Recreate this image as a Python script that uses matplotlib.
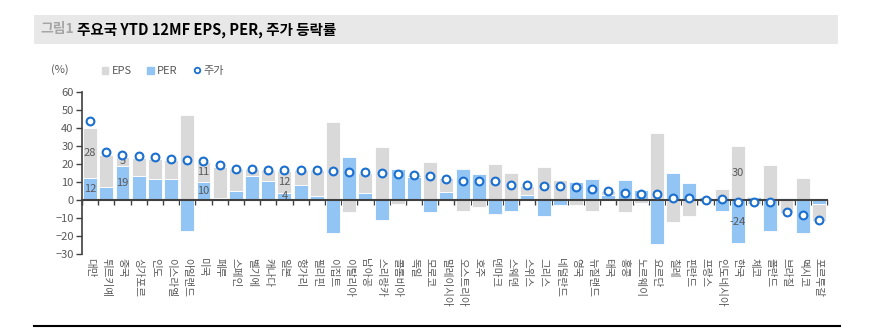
import matplotlib.pyplot as plt
import numpy as np
from matplotlib.patches import Rectangle
from matplotlib.lines import Line2D
from matplotlib.transforms import blended_transform_factory

plt.rcParams['font.family'] = ['Noto Sans CJK KR', 'DejaVu Sans']

countries = ['대만', '튀르키예', '중국', '싱가포르', '인도', '이스라엘', '아일랜드', '미국', '페루',
             '스페인', '벨기에', '캐나다', '일본', '헝가리', '필리핀', '이집트', '이탈리아', '남아공',
             '스리랑카', '콜롬비아', '독일', '모로코', '말레이시아', '오스트리아', '호주', '덴마크',
             '스웨덴', '스위스', '그리스', '네덜란드', '영국', '뉴질랜드', '태국', '홍콩', '노르웨이',
             '요르단', '칠레', '핀란드', '프랑스', '인도네시아', '한국', '체코', '폴란드', '브라질',
             '멕시코', '포르투갈']

per = [12, 7, 19, 13.3, 11.4, 11.4, -17, 10, 1, 5, 13.3, 10.5, 4, 8.3, 2.2, -18.5, 24, 3.7,
       -11.3, 17, 12.8, -6.5, 4.4, 17, 14.2, -7.9, -5.9, 2.8, -8.7, -3, 10.1, 11.4, 2.8, 11.1,
       5.5, -24.5, 14.8, 9.6, 1.5, -5.9, -24, 1.5, -17, 0.9, -18.1, -2.4]
eps = [28, 18, 5, 10, 11.5, 10.7, 47, 11, 17.5, 12, 3.7, 6, 12, 8.3, 14.4, 43, -6.5, 11.4,
       29.5, -2.4, 1, 21.2, 7.6, -5.9, -3.7, 19.7, 14.8, 4.9, 18.5, 11.1, -3, -5.9, 2.2, -6.5,
       -1.5, 37.3, -12, -8.7, -1.3, 6.1, 30, -2.5, 19.4, -7.5, 12, -9.2]
price = [43.9, 26.6, 24.9, 24.4, 23.6, 22.9, 22.1, 21.6, 19.6, 17.3, 17.3, 16.6, 16.6, 16.6,
         16.6, 16.2, 15.3, 15.3, 14.8, 14.6, 13.8, 13.3, 11.8, 10.7, 10.7, 10.7, 8.3, 8.3, 7.7,
         7.7, 7.0, 5.9, 5.0, 3.7, 3.3, 3.3, 0.9, 0.9, 0.2, 0.4, -1.3, -1.2, -1.2, -6.6, -8.2,
         -11.1]

# countries whose EPS / PER values are printed on the bars
labeled = ['대만', '중국', '미국', '일본', '한국']

c_eps = '#d9d9d9'
c_per = '#92c4f4'
c_dot = '#1b6fcf'
c_txt = '#595959'

fig = plt.figure(figsize=(8.69, 3.29), dpi=100)

# header band
fig.patches.append(Rectangle((34 / 869, 1 - 44 / 329), (838 - 34) / 869, 29 / 329,
                             transform=fig.transFigure, facecolor='#e8e8e8', edgecolor='none'))
fig.text(40 / 869, 1 - 29.5 / 329, '그림1', color='#a6a6a6', fontsize=10, fontweight='bold', va='center')
fig.text(77 / 869, 1 - 29.5 / 329, '주요국 YTD 12MF EPS, PER, 주가 등락률', color='black',
         fontsize=10.5, fontweight='bold', va='center')
fig.add_artist(Line2D([34 / 869, 840 / 869], [1 - 326 / 329] * 2, color='black', lw=1.5))

ax = fig.add_axes([82 / 869, 75 / 329, (827 - 82) / 869, (254 - 91.7) / 329])

x = np.arange(len(countries))
per_a = np.array(per)
eps_a = np.array(eps)
# positive values stack on positive, negative on negative
eps_bottom = np.where(np.sign(eps_a) == np.sign(per_a), per_a, 0)

w = 0.86
ax.bar(x, per_a, w, color=c_per, edgecolor='white', linewidth=0.6, label='PER', zorder=2)
ax.bar(x, eps_a, w, bottom=eps_bottom, color=c_eps, edgecolor='white', linewidth=0.6,
       label='EPS', zorder=2)
ax.plot(x, price, 'o', ms=5.6, mfc='white', mec=c_dot, mew=1.5, label='주가', zorder=4)

for i, name in enumerate(countries):
    if name in labeled:
        ax.text(i, per_a[i] / 2, f'{per_a[i]:.0f}', ha='center', va='center',
                fontsize=8, color=c_txt, zorder=3)
        ax.text(i, eps_bottom[i] + eps_a[i] / 2, f'{eps_a[i]:.0f}', ha='center', va='center',
                fontsize=8, color=c_txt, zorder=3)

ax.set_xlim(-0.5, len(countries) - 0.5)
ax.set_ylim(-30, 60)
ax.set_yticks(np.arange(-30, 61, 10))
ax.tick_params(axis='y', direction='out', length=4, width=1, color='#404040',
               labelsize=8, labelcolor=c_txt, pad=2)

ax.spines['top'].set_visible(False)
ax.spines['right'].set_visible(False)
ax.spines['left'].set_color('#404040')
ax.spines['left'].set_linewidth(1.2)
ax.spines['bottom'].set_position(('data', 0))
ax.spines['bottom'].set_color('#404040')
ax.spines['bottom'].set_linewidth(1.5)
ax.spines['bottom'].set_zorder(3)

ax.set_xticks(x)
ax.set_xticklabels([])
ax.tick_params(axis='x', which='major', length=0)
ax.set_xticks(np.arange(-0.5, len(countries), 1), minor=True)
ax.tick_params(axis='x', which='minor', direction='out', length=3.5, width=1, color='#404040')

trans = blended_transform_factory(ax.transData, ax.transAxes)
for i, name in enumerate(countries):
    ax.text(i, -0.025, name, rotation=270, ha='center', va='top', fontsize=7.6,
            color=c_txt, transform=trans, linespacing=1.0)

fig.text(60 / 869, 1 - 70 / 329, '(%)', fontsize=8, color=c_txt, ha='center', va='center')

handles = [
    Rectangle((0, 0), 1, 1, color=c_eps),
    Rectangle((0, 0), 1, 1, color=c_per),
    Line2D([], [], marker='o', ls='none', ms=4, mfc='white', mec=c_dot, mew=1.3),
]
fig.legend(handles, ['EPS', 'PER', '주가'], loc='center left',
           bbox_to_anchor=(96 / 869, 1 - 71 / 329), ncol=3, frameon=False, fontsize=8,
           handlelength=0.6, handleheight=0.6, handletextpad=0.3, columnspacing=1.4,
           labelcolor=c_txt, borderpad=0)

fig.savefig('out.png', dpi=100)
